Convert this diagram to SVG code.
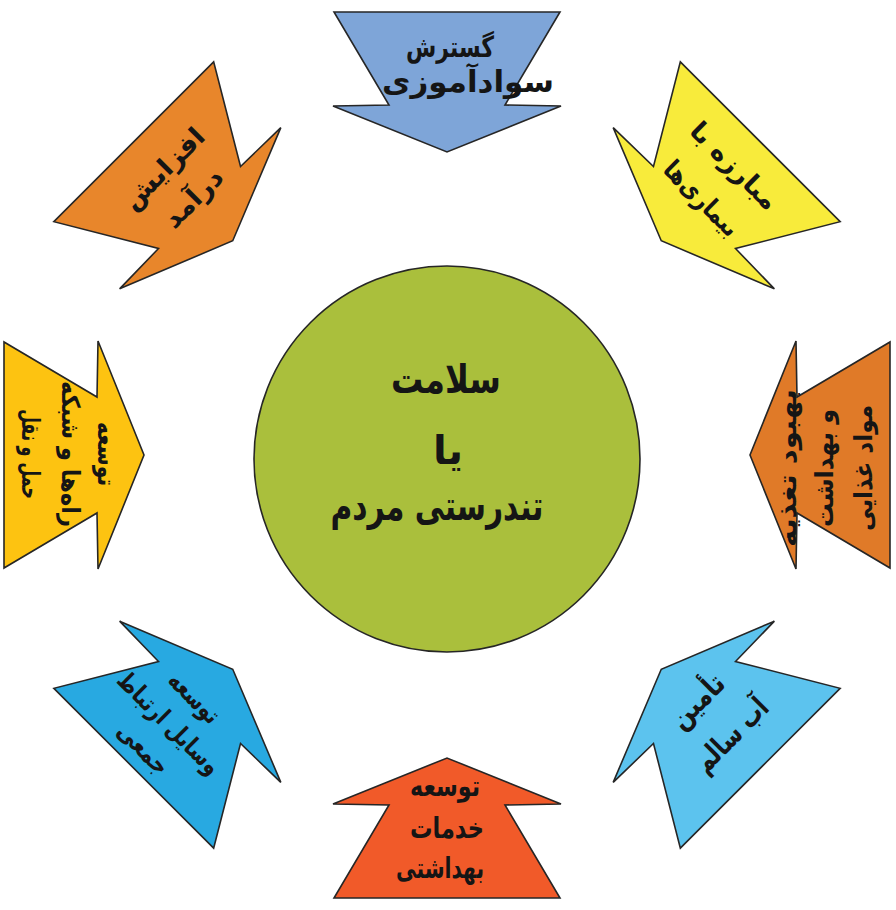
<svg xmlns="http://www.w3.org/2000/svg" xmlns:xlink="http://www.w3.org/1999/xlink" width="896" height="910" viewBox="0 0 896 910">
<style>
.ar{font-family:"DejaVu Sans",sans-serif;font-weight:bold;fill:#151515;text-anchor:middle}
.shp{stroke:#262626;stroke-width:1.6;stroke-linejoin:miter}
</style>
<defs>
<polygon id="arr" points="334,12 560,12 505,105 561,106 447,152 333,106 389,105"/>
</defs>
<rect width="896" height="910" fill="#ffffff"/>

<g id="node-top">
<use xlink:href="#arr" class="shp" fill="#7EA5D8"/>
<text class="ar" x="450" y="57" font-size="29" textLength="88" lengthAdjust="spacingAndGlyphs">گسترش</text>
<text class="ar" x="468" y="92" font-size="30" textLength="172" lengthAdjust="spacingAndGlyphs">سوادآموزی</text>
</g>

<g id="node-topright">
<use xlink:href="#arr" class="shp" fill="#F8EB3B" transform="rotate(45 447 455)"/>
<g transform="translate(718,182) rotate(45)">
<text class="ar" x="0" y="-14" font-size="26" textLength="112" lengthAdjust="spacingAndGlyphs">مبارزه با</text>
<text class="ar" x="0" y="32" font-size="26" textLength="95" lengthAdjust="spacingAndGlyphs">بیماری‌ها</text>
</g>
</g>

<g id="node-right">
<use xlink:href="#arr" class="shp" fill="#E07A28" transform="rotate(90 447 455)"/>
<g transform="translate(825,468) rotate(-90)">
<text class="ar" x="0" y="-29" font-size="25" textLength="158" lengthAdjust="spacingAndGlyphs">بهبود تغذیه</text>
<text class="ar" x="0" y="8" font-size="25" textLength="118" lengthAdjust="spacingAndGlyphs">و بهداشت</text>
<text class="ar" x="0" y="47" font-size="25" textLength="126" lengthAdjust="spacingAndGlyphs">مواد غذایی</text>
</g>
</g>

<g id="node-bottomright">
<use xlink:href="#arr" class="shp" fill="#5CC3EE" transform="rotate(135 447 455)"/>
<g transform="translate(714,718) rotate(-45)">
<text class="ar" x="0" y="-14" font-size="29" textLength="64" lengthAdjust="spacingAndGlyphs">تأمین</text>
<text class="ar" x="0" y="34" font-size="29" textLength="92" lengthAdjust="spacingAndGlyphs">آب سالم</text>
</g>
</g>

<g id="node-bottom">
<use xlink:href="#arr" class="shp" fill="#F15A29" transform="rotate(180 447 455)"/>
<text class="ar" x="445" y="796" font-size="29" textLength="70" lengthAdjust="spacingAndGlyphs">توسعه</text>
<text class="ar" x="447" y="838" font-size="29" textLength="74" lengthAdjust="spacingAndGlyphs">خدمات</text>
<text class="ar" x="440" y="878" font-size="29" textLength="88" lengthAdjust="spacingAndGlyphs">بهداشتی</text>
</g>

<g id="node-bottomleft">
<use xlink:href="#arr" class="shp" fill="#28A9E1" transform="rotate(225 447 455)"/>
<g transform="translate(170,722) rotate(45)">
<text class="ar" x="0" y="-26" font-size="25" textLength="62" lengthAdjust="spacingAndGlyphs">توسعه</text>
<text class="ar" x="0" y="10" font-size="25" textLength="134" lengthAdjust="spacingAndGlyphs">وسایل ارتباط</text>
<text class="ar" x="0" y="46" font-size="25" textLength="62" lengthAdjust="spacingAndGlyphs">جمعی</text>
</g>
</g>

<g id="node-left">
<use xlink:href="#arr" class="shp" fill="#FDC311" transform="rotate(270 447 455)"/>
<g transform="translate(70,454) rotate(90)">
<text class="ar" x="0" y="-28" font-size="25" textLength="64" lengthAdjust="spacingAndGlyphs">توسعه</text>
<text class="ar" x="0" y="8" font-size="25" textLength="146" lengthAdjust="spacingAndGlyphs">راه‌ها و شبکه</text>
<text class="ar" x="0" y="48" font-size="25" textLength="90" lengthAdjust="spacingAndGlyphs">حمل و نقل</text>
</g>
</g>

<g id="node-topleft">
<use xlink:href="#arr" class="shp" fill="#E8862B" transform="rotate(315 447 455)"/>
<g transform="translate(177,182) rotate(-45)">
<text class="ar" x="0" y="-10" font-size="26" textLength="104" lengthAdjust="spacingAndGlyphs">افزایش</text>
<text class="ar" x="0" y="32" font-size="26" textLength="72" lengthAdjust="spacingAndGlyphs">درآمد</text>
</g>
</g>

<g id="node-center">
<circle cx="447" cy="459" r="193" class="shp" fill="#AABF3C"/>
<text class="ar" x="446" y="393" font-size="40" textLength="110" lengthAdjust="spacingAndGlyphs">سلامت</text>
<text class="ar" x="448" y="464" font-size="40">یا</text>
<text class="ar" x="437" y="520" font-size="40" textLength="213" lengthAdjust="spacingAndGlyphs">تندرستی مردم</text>
</g>
</svg>
